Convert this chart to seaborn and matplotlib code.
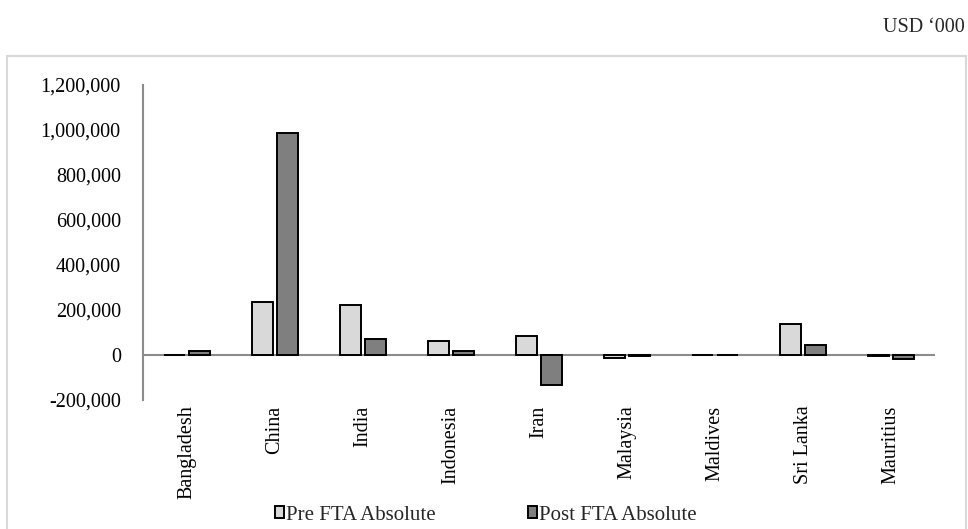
import matplotlib
matplotlib.use("Agg")
import matplotlib.pyplot as plt
from matplotlib.patches import Rectangle
from matplotlib.ticker import FuncFormatter
import pandas as pd
import seaborn as sns

# Trade balance change by partner country (USD '000)
countries = ["Bangladesh", "China", "India", "Indonesia", "Iran",
             "Malaysia", "Maldives", "Sri Lanka", "Mauritius"]
pre_fta = [1000, 236000, 222000, 62000, 84000, -12000, 1000, 138000, -6000]
post_fta = [20000, 985000, 70000, 19000, -133000, -4000, 1000, 44000, -17000]
series_names = ["Pre FTA Absolute", "Post FTA Absolute"]
y_ticks = [-200000, 0, 200000, 400000, 600000, 800000, 1000000, 1200000]

df = pd.DataFrame({
    "Country": countries * 2,
    "Value": pre_fta + post_fta,
    "Series": [series_names[0]] * len(countries) + [series_names[1]] * len(countries),
})

sns.set_theme(style="white")
plt.rcParams["font.family"] = ["Liberation Serif", "DejaVu Serif"]
plt.rcParams["font.size"] = 14.5

fig = plt.figure(figsize=(9.68, 5.29), dpi=100)
ax = fig.add_axes([143 / 968, 1 - 400 / 529, 792 / 968, 315 / 529])

sns.barplot(data=df, x="Country", y="Value", hue="Series", order=countries,
            hue_order=series_names,
            palette={series_names[0]: "#d9d9d9", series_names[1]: "#7f7f7f"},
            width=0.56, gap=0.15, edgecolor="black", linewidth=1.4,
            saturation=1, errorbar=None, ax=ax, legend=True)

ax.set_ylim(-200000, 1200000)
ax.set_xlim(-0.5, len(countries) - 0.5)
ax.set_yticks(y_ticks)
ax.yaxis.set_major_formatter(FuncFormatter(lambda v, _: f"{int(v):,}"))
ax.axhline(0, color="#8c8c8c", linewidth=1.5, zorder=0.5)

for side in ["top", "right", "bottom"]:
    ax.spines[side].set_visible(False)
ax.spines["left"].set_color("#8c8c8c")
ax.spines["left"].set_linewidth(1.5)

ax.tick_params(axis="both", length=0, colors="black", labelsize=14.5)
ax.tick_params(axis="y", pad=16)
ax.tick_params(axis="x", pad=4)
plt.setp(ax.get_xticklabels(), rotation=90)
ax.set_xlabel("")
ax.set_ylabel("")

handles, labels = ax.get_legend_handles_labels()
ax.get_legend().remove()
fig.legend(handles, labels, loc="center left", bbox_to_anchor=(275 / 968, 1 - 515 / 529),
           ncol=2, frameon=False, fontsize=15, handlelength=0.45,
           handleheight=0.45, handletextpad=0.1, columnspacing=4.4,
           borderpad=0, borderaxespad=0)

# Chart area border
fig.patches.append(Rectangle((7 / 968, -0.01), 959 / 968, (1 - 56 / 529) + 0.01,
                             transform=fig.transFigure, fill=False,
                             edgecolor="#d9d9d9", linewidth=1.5))

fig.text(965 / 968, 1 - 28 / 529, "USD \u2018000", ha="right", va="center",
         fontsize=14.5)

fig.savefig("out.png", dpi=100)
